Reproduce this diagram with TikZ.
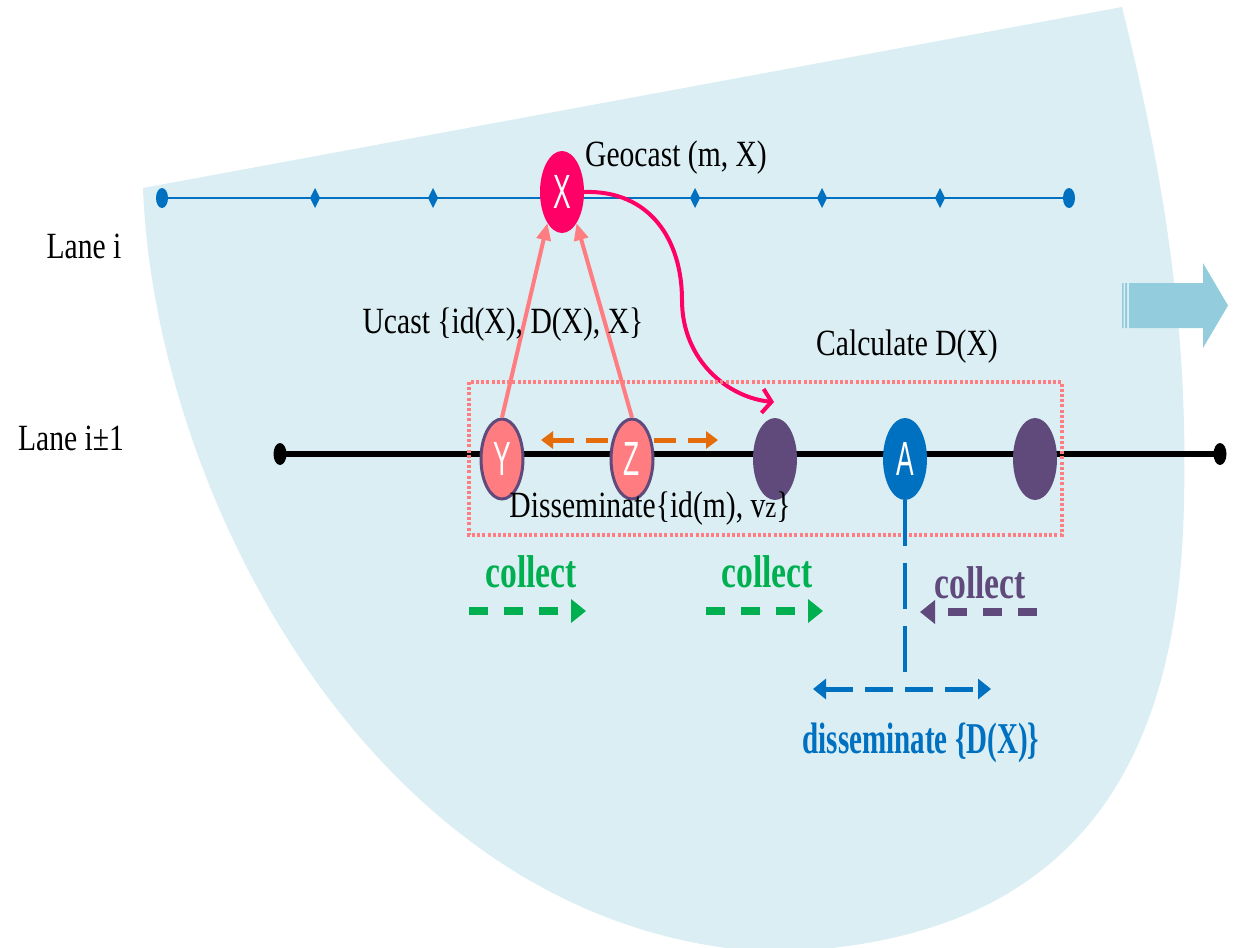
\documentclass[tikz,border=0pt]{standalone}
\usepackage{fontspec}
\setmainfont{Liberation Serif}
\newfontfamily\lblfont{Liberation Serif}[FakeStretch=0.8]
\newfontfamily\collectfont{Liberation Serif}[FakeStretch=0.73]
\newfontfamily\dissfont{Liberation Serif}[FakeStretch=0.66]
\newfontfamily\letterfont{Liberation Sans}[FakeStretch=0.55]
\usetikzlibrary{arrows.meta,shapes.geometric}

\definecolor{fanblue}{HTML}{DAEEF3}
\definecolor{blockblue}{HTML}{93CDDD}
\definecolor{laneblue}{HTML}{0070C0}
\definecolor{hotpink}{HTML}{FF0066}
\definecolor{salmon}{HTML}{FF7C80}
\definecolor{plum}{HTML}{604A7B}
\definecolor{tangerine}{HTML}{E46C0A}
\definecolor{leaf}{HTML}{00B050}

\tikzset{
  car/.style={ellipse, minimum width=44pt, minimum height=82pt, inner sep=0pt,
    text=white, font=\letterfont\fontsize{48}{48}\selectfont},
  ringcar/.style={car, minimum width=42pt, minimum height=80pt, draw=plum, line width=3pt, fill=salmon},
  idot/.style={ellipse, fill=laneblue, minimum width=12pt, minimum height=20pt, inner sep=0pt},
  kdot/.style={ellipse, fill=black, minimum width=13pt, minimum height=22pt, inner sep=0pt},
  lbl/.style={anchor=base, inner sep=0pt, font=\lblfont\fontsize{37}{40}\selectfont},
  coll/.style={anchor=base, inner sep=0pt, font=\collectfont\bfseries\fontsize{46}{48}\selectfont},
  dissb/.style={anchor=base, inner sep=0pt, text=laneblue, font=\dissfont\bfseries\fontsize{44}{46}\selectfont},
  ucast/.style={draw=salmon, line width=4pt, -{Triangle[length=17pt,width=14pt]}},
  geo/.style={draw=hotpink, line width=4pt, -{Straight Barb[length=9pt,width=24pt]}},
  swap/.style={draw=tangerine, line width=5pt, dash pattern=on 22pt off 12pt, {Triangle[length=12pt,width=17pt]}-{Triangle[length=12pt,width=17pt]}},
  gather/.style={line width=8pt, dash pattern=on 19pt off 16pt, -{Triangle[length=15pt,width=23pt]}},
  spread/.style={draw=laneblue, line width=5pt, dash pattern=on 28pt off 12pt, {Triangle[length=13pt,width=20pt]}-{Triangle[length=13pt,width=20pt]}},
  drop/.style={draw=laneblue, line width=3.5pt, dash pattern=on 46pt off 17pt},
  zone/.style={draw=salmon, line width=4pt, dash pattern=on 3pt off 2.2pt}
}

\begin{document}
\begin{tikzpicture}[x=1pt,y=-1pt]
\useasboundingbox (0,0) rectangle (1235,948);

% communication range of the geocast
\begin{scope}
  \clip (0,0) rectangle (1235,948);
  \fill[fanblue] (143,188) -- (1122,7)
    .. controls (1165,180) and (1188,330) .. (1184,500)
    .. controls (1180,760) and (1080,945) .. (770,952)
    .. controls (380,932) and (155,500) .. (143,188)
    -- cycle;
\end{scope}

% direction of travel
\fill[blockblue] (1129,283) rectangle (1203,328)
  (1122,283) rectangle (1123.5,328)
  (1125,283) rectangle (1127,328)
  (1203,263) -- (1228,305.5) -- (1203,348) -- cycle;

% lane i
\node[idot] (li-w) at (162,198) {};
\node[idot] (li-e) at (1069,198) {};
\draw[laneblue, line width=2pt] (li-w.center) -- (li-e.center);
\foreach \x in {315,433,695,822,940}
  \fill[laneblue] (\x,188) -- ++(5,10) -- ++(-5,10) -- ++(-5,-10) -- cycle;

% lane i+-1
\node[kdot] (lk-w) at (280,454) {};
\node[kdot] (lk-e) at (1220,454) {};
\draw[black, line width=6pt] (lk-w.center) -- (lk-e.center);

% exchange between Y and Z
\coordinate (o-l) at (541,440);
\coordinate (o-r) at (718,440);
\draw[swap] (o-l) -- (o-r);

% vehicles
\node[car, fill=hotpink] (X) at (562,192) {X};
\node[ringcar] (Y) at (502,459) {Y};
\node[ringcar] (Z) at (632,459) {Z};
\node[car, fill=plum] (P1) at (775,459) {};
\node[car, fill=laneblue] (A) at (905,459) {A};
\node[car, fill=plum] (P2) at (1035,459) {};

% unicast to X and geocast from X
\draw[ucast] (Y.north) -- (X.245);
\draw[ucast] (Z.north) -- (X.295);
\coordinate (g-end) at (774,402);
\draw[geo] (X.east) .. controls (650,190) and (682,240) .. (682,300)
  .. controls (682,362) and (730,398) .. (g-end);

% neighbourhood of the target lane
\draw[zone] (469,382) rectangle (1062,535);

% collection and dissemination
\coordinate (g1-a) at (469,611);
\coordinate (g1-b) at (586,611);
\coordinate (g2-a) at (706,611);
\coordinate (g2-b) at (823,611);
\coordinate (g3-a) at (1037,612);
\coordinate (g3-b) at (920,612);
\draw[gather, draw=leaf] (g1-a) -- (g1-b);
\draw[gather, draw=leaf] (g2-a) -- (g2-b);
\draw[gather, draw=plum] (g3-a) -- (g3-b);
\coordinate (a-end) at (905,676);
\draw[drop] (A.south) -- (a-end);
\coordinate (d-l) at (813,689);
\coordinate (d-r) at (991,689);
\draw[spread] (d-l) -- (d-r);

% labels
\node[lbl] (t-geo) at (676,166) {Geocast (m, X)};
\node[lbl] (t-lanei) at (84,258) {Lane i};
\node[lbl] (t-lanek) at (71,450) {Lane i±1};
\node[lbl] (t-ucast) at (503,333) {Ucast \{id(X), D(X), X\}};
\node[lbl] (t-calc) at (907,355) {Calculate D(X)};
\node[lbl] (t-diss) at (650,517) {Disseminate\{id(m), v{\fontsize{31}{31}\selectfont z}\}};
\node[coll, text=leaf] (t-c1) at (531,587) {collect};
\node[coll, text=leaf] (t-c2) at (767,587) {collect};
\node[coll, text=plum] (t-c3) at (980,598) {collect};
\node[dissb] (t-dx) at (921,753) {disseminate \{D(X)\}};
\end{tikzpicture}
\end{document}
